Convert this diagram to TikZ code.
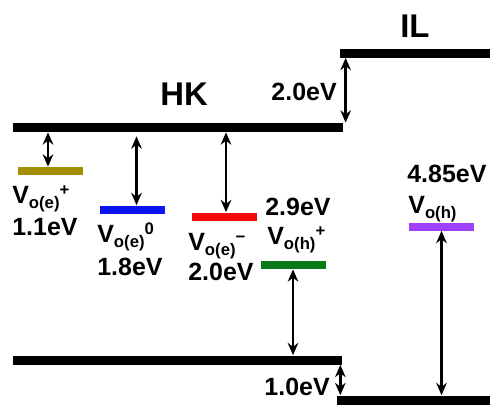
\documentclass[tikz,border=0pt]{standalone}
\usepackage{fontspec}
\setmainfont{Liberation Sans}
\usetikzlibrary{arrows.meta,positioning,calc}
\definecolor{lvolive}{HTML}{A38E00}
\definecolor{lvblue}{HTML}{0A14F5}
\definecolor{lvred}{HTML}{F50A0A}
\definecolor{lvgreen}{HTML}{087A1A}
\definecolor{lvpurple}{HTML}{A040FF}
\newcommand{\subsz}{\fontsize{9.5}{10}\selectfont}
% vacancy label: V_o(#1)^#2
\newcommand{\vac}[2]{V\raisebox{-3.4pt}{\subsz o(#1)}\raisebox{4pt}{\subsz #2}}
\tikzset{
  band/.style={rectangle, fill=black, inner sep=0pt,
    minimum height=0.18cm, minimum width=#1},
  level/.style={rectangle, fill=#1, inner sep=0pt,
    minimum width=1.3cm, minimum height=0.16cm},
  gap/.style={{Stealth[length=7pt,width=6pt]}-{Stealth[length=7pt,width=6pt]},
    line width=1.4pt},
  evlabel/.style={font=\fontsize{14.2}{16}\selectfont\bfseries, inner sep=0pt},
  mattxt/.style={font=\fontsize{18.7}{20}\selectfont\bfseries, inner sep=0pt},
}
\begin{document}
\begin{tikzpicture}[x=0.02cm,y=-0.02cm]
\useasboundingbox (0,0) rectangle (492,406);

% bands
\node[band=6.6cm] (hkc) at (178,127.5) {};
\node[band=3.0cm] (ilc) at (415,53) {};
\node[band=6.58cm] (hkv) at (177.5,360) {};
\node[band=3.06cm] (ilv) at (413.5,400) {};
\node[mattxt, anchor=base west] (hk) at (160,105) {HK};
\node[mattxt, anchor=base west] (il) at (400,37) {IL};

% defect levels
\node[level=lvolive] (lvA) at (50.5,171) {};
\node[level=lvblue] (lvB) at (132.5,209.5) {};
\node[level=lvred] (lvC) at (224,216.5) {};
\node[level=lvgreen] (lvD) at (293,265) {};
\node[level=lvpurple] (lvE) at (441.5,226.5) {};

% offsets
\draw[gap] ([xshift=0.12cm]ilc.south west) -- ([xshift=0.12cm]ilc.south west |- hkc.north);
\draw[gap] ([xshift=-0.04cm]hkv.south east) -- ([xshift=-0.04cm]hkv.south east |- ilv.north);
\draw[gap] ([xshift=-0.05cm]lvA.north) -- ([xshift=-0.05cm]lvA.north |- hkc.south);
\draw[gap, shorten >=0.08cm] ([xshift=0.08cm]lvB.north) -- ([xshift=0.08cm]lvB.north |- hkc.south);
\draw[gap] ([xshift=0.04cm]lvC.north) -- ([xshift=0.04cm]lvC.north |- hkc.south);
\draw[gap] (lvD.south) -- (lvD.south |- hkv.north);
\draw[gap] (lvE.south) -- (lvE.south |- ilv.north);

% labels
\node[evlabel, anchor=base east] (offC) at (337,100) {2.0eV};
\node[evlabel, anchor=base east] (offV) at (330,395) {1.0eV};
\node[evlabel, anchor=base west] (nmA) at (12,203) {\vac{e}{+}};
\node[evlabel, anchor=base west] (evA) at (12,235) {1.1eV};
\node[evlabel, anchor=base west] (nmB) at (97,242) {\vac{e}{0}};
\node[evlabel, anchor=base west] (evB) at (97,275) {1.8eV};
\node[evlabel, anchor=base west] (nmC) at (188,250) {\vac{e}{−}};
\node[evlabel, anchor=base west] (evC) at (188,280) {2.0eV};
\node[evlabel, anchor=base west] (evD) at (265,215) {2.9eV};
\node[evlabel, anchor=base west] (nmD) at (267,244) {\vac{h}{+}};
\node[evlabel, anchor=base west] (evE) at (407,182) {4.85eV};
\node[evlabel, anchor=base west] (nmE) at (408,213) {\vac{h}{}};

\end{tikzpicture}
\end{document}
